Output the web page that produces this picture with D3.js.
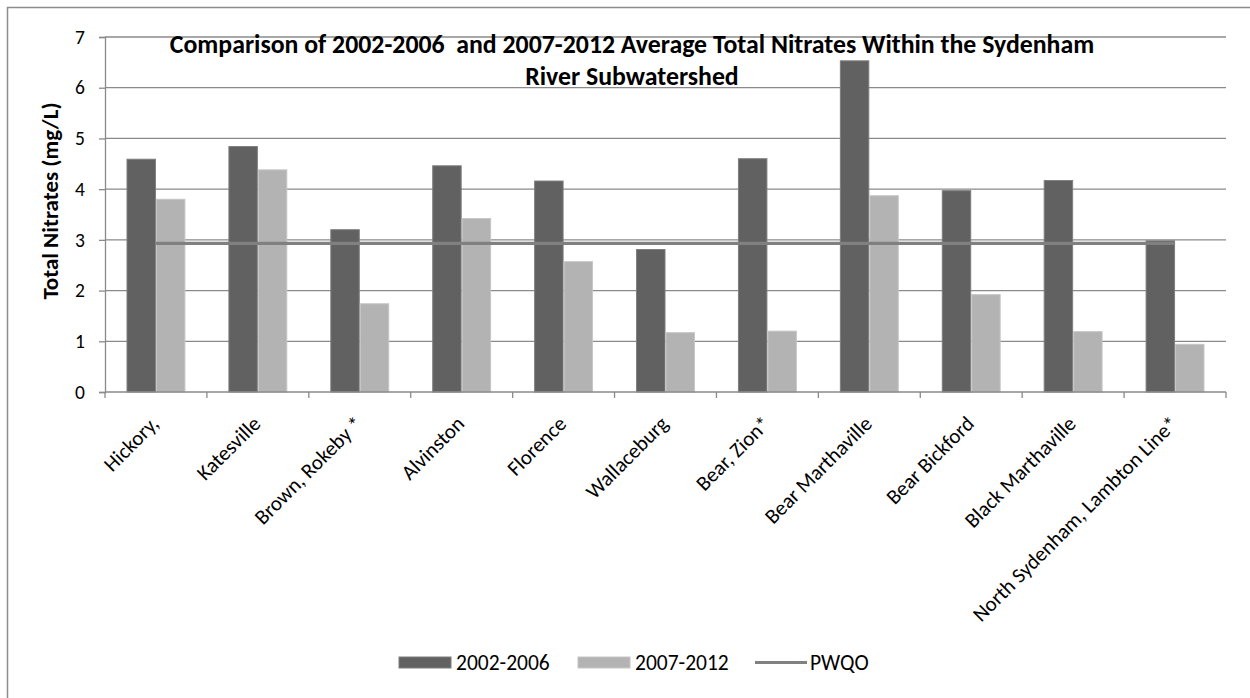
<!DOCTYPE html>
<html>
<head>
<meta charset="utf-8">
<script src="https://cdn.jsdelivr.net/npm/d3@7"></script>
<style>
  html, body { margin: 0; padding: 0; background: #ffffff; }
  svg text { font-family: Calibri, Carlito, Lato, sans-serif; fill: #000; }
</style>
</head>
<body>
<svg id="chart" width="1250" height="698"></svg>
<script>
// Sampling stations along the Sydenham River subwatershed
const stations = [
  "Hickory,", "Katesville", "Brown, Rokeby *", "Alvinston", "Florence",
  "Wallaceburg", "Bear, Zion*", "Bear Marthaville", "Bear Bickford",
  "Black Marthaville", "North Sydenham, Lambton Line*"
];
// Average total nitrates (mg/L) per period
const avg2002_2006 = [4.59, 4.84, 3.20, 4.46, 4.16, 2.81, 4.60, 6.53, 3.97, 4.17, 2.98];
const avg2007_2012 = [3.80, 4.38, 1.74, 3.42, 2.57, 1.17, 1.20, 3.87, 1.92, 1.19, 0.94];
// Provincial Water Quality Objective for nitrate
const pwqo = 2.93;
const seriesNames = ["2002-2006", "2007-2012"];
const yTicks = [0, 1, 2, 3, 4, 5, 6, 7];
const titleLines = [
  "Comparison of 2002-2006\u00a0\u00a0and 2007-2012 Average Total Nitrates Within the Sydenham",
  "River Subwatershed"
];

const svg = d3.select("#chart");
const plot = { left: 105, right: 1226, top: 37, bottom: 392 };
const gridColor = "#8a8a8a";
const fills = ["#616161", "#b3b3b3"];
const strokes = ["#7e7e7e", "#c6c6c6"];

// Outer chart frame
svg.append("rect")
  .attr("x", 7.5).attr("y", 7.5)
  .attr("width", 1260).attr("height", 720)
  .attr("fill", "none").attr("stroke", "#8c8c8c").attr("stroke-width", 1.5);

const x0 = d3.scaleBand().domain(stations).range([plot.left, plot.right]).padding(0);
const x1 = d3.scaleBand().domain(seriesNames).range([0, x0.bandwidth()])
  .paddingInner(0).paddingOuter(0.73);
const y = d3.scaleLinear().domain([0, 7]).range([plot.bottom, plot.top]);

// Horizontal gridlines
svg.append("g")
  .selectAll("line").data(yTicks.filter(d => d > 0)).join("line")
  .attr("x1", plot.left).attr("x2", plot.right)
  .attr("y1", d => y(d)).attr("y2", d => y(d))
  .attr("stroke", gridColor).attr("stroke-width", 1.3);

// Bars
const rows = stations.map((s, i) => ({ s, v: [avg2002_2006[i], avg2007_2012[i]] }));
const groups = svg.append("g").selectAll("g").data(rows).join("g")
  .attr("transform", d => `translate(${x0(d.s)},0)`);
groups.selectAll("rect").data(d => d.v.map((v, k) => ({ v, k }))).join("rect")
  .attr("x", d => x1(seriesNames[d.k]) + 0.5)
  .attr("width", x1.bandwidth() - 1)
  .attr("y", d => y(d.v))
  .attr("height", d => y(0) - y(d.v))
  .attr("fill", d => fills[d.k])
  .attr("stroke", d => strokes[d.k]).attr("stroke-width", 1);

// PWQO reference line from the first to the last station centre
const pwqoLine = d3.line().x(d => x0(d) + x0.bandwidth() / 2).y(() => y(pwqo));
svg.append("path")
  .datum(stations)
  .attr("d", pwqoLine)
  .attr("fill", "none").attr("stroke", "#808080").attr("stroke-width", 3.2);

// Y axis
const yAxis = d3.axisLeft(y).tickValues(yTicks).tickSize(6).tickPadding(14).tickFormat(d3.format("d"));
const gy = svg.append("g").attr("transform", `translate(${plot.left},0)`).call(yAxis);
gy.select(".domain").attr("stroke", gridColor).attr("stroke-width", 1.3);
gy.selectAll(".tick line").attr("stroke", gridColor).attr("stroke-width", 1.3);
gy.selectAll(".tick text").attr("font-size", 19.5).attr("font-family", null).attr("fill", "#000");

// X axis: ticks at station boundaries
const bounds = stations.map(s => x0(s)).concat([plot.right]);
svg.append("line")
  .attr("x1", plot.left).attr("x2", plot.right)
  .attr("y1", y(0)).attr("y2", y(0))
  .attr("stroke", gridColor).attr("stroke-width", 1.3);
svg.append("g").selectAll("line").data(bounds).join("line")
  .attr("x1", d => d).attr("x2", d => d)
  .attr("y1", y(0)).attr("y2", y(0) + 6)
  .attr("stroke", gridColor).attr("stroke-width", 1.3);

svg.append("g").selectAll("text").data(stations).join("text")
  .attr("transform", d => `translate(${x0(d) + x0.bandwidth() / 2 + 4},${y(0) + 33}) rotate(-45)`)
  .attr("text-anchor", "end")
  .attr("font-size", 21)
  .text(d => d);

// Y axis title
svg.append("text")
  .attr("transform", `translate(58,201) rotate(-90)`)
  .attr("text-anchor", "middle")
  .attr("font-size", 23).attr("font-weight", "bold")
  .text("Total Nitrates (mg/L)");

// Chart title
svg.append("g").selectAll("text").data(titleLines).join("text")
  .attr("x", 632).attr("y", (d, i) => 53 + i * 32)
  .attr("text-anchor", "middle")
  .attr("font-size", 25.8).attr("font-weight", "bold")
  .text(d => d);

// Legend
const legend = svg.append("g");
const legendItems = [
  { label: "2002-2006", kind: "bar", k: 0, x: 399 },
  { label: "2007-2012", kind: "bar", k: 1, x: 578 },
  { label: "PWQO", kind: "line", x: 755 }
];
legendItems.forEach(it => {
  if (it.kind === "bar") {
    legend.append("rect")
      .attr("x", it.x).attr("y", 657).attr("width", 52).attr("height", 11)
      .attr("fill", fills[it.k]).attr("stroke", strokes[it.k]).attr("stroke-width", 1);
  } else {
    legend.append("line")
      .attr("x1", it.x).attr("x2", it.x + 52).attr("y1", 662.5).attr("y2", 662.5)
      .attr("stroke", "#808080").attr("stroke-width", 3.2);
  }
  legend.append("text")
    .attr("x", it.x + (it.kind === "bar" ? 57 : 55)).attr("y", 670)
    .attr("font-size", 21.5)
    .text(it.label);
});
</script>
</body>
</html>
